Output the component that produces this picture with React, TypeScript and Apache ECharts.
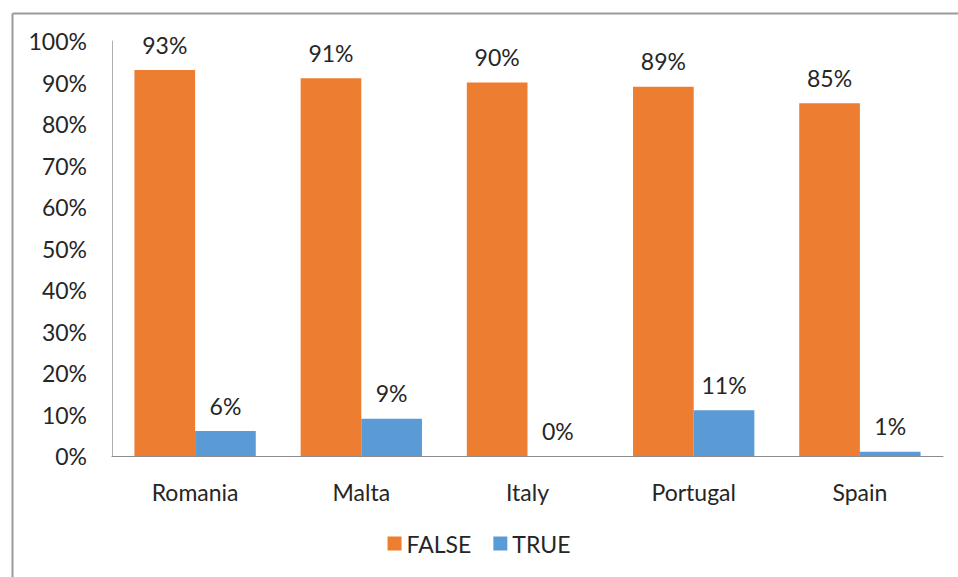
import React, { useEffect, useRef } from "react";
import * as echarts from "echarts";

const categories = ["Romania", "Malta", "Italy", "Portugal", "Spain"];
const falseValues = [93, 91, 90, 89, 85];
const trueValues = [6, 9, 0, 11, 1];
const seriesNames = ["FALSE", "TRUE"];

const FONT = "Lato, 'Open Sans', sans-serif";

export default function App() {
  const ref = useRef<HTMLDivElement>(null);
  useEffect(() => {
    if (!ref.current) return;
    const chart = echarts.init(ref.current, null, { renderer: "svg" });
    const label = {
      show: true,
      position: "top" as const,
      distance: 14,
      formatter: "{c}%",
      color: "#262626",
      fontSize: 23,
      fontFamily: FONT,
    };
    chart.setOption({
      animation: false,
      backgroundColor: "#fff",
      textStyle: { fontFamily: FONT },
      graphic: [
        { type: "line", shape: { x1: 10.5, y1: 0, x2: 10.5, y2: 577 }, top: 11, left: 10, style: { stroke: "#9a9a9a", lineWidth: 2 } },
        { type: "line", shape: { x1: 0, y1: 11.5, x2: 958, y2: 11.5 }, top: 11, left: 10, style: { stroke: "#9a9a9a", lineWidth: 2 } },
      ],
      grid: { left: 112, right: 15, top: 41, bottom: 121, containLabel: false },
      legend: {
        bottom: 17,
        left: "center",
        itemWidth: 14,
        itemHeight: 14,
        itemGap: 22,
        icon: "rect",
        textStyle: { fontSize: 23, color: "#262626", fontFamily: FONT },
        data: seriesNames,
      },
      xAxis: {
        type: "category",
        data: categories,
        axisTick: { show: false },
        axisLine: { lineStyle: { color: "#8c8c8c", width: 1 } },
        axisLabel: { fontSize: 23, color: "#262626", margin: 24, fontFamily: FONT },
      },
      yAxis: {
        type: "value",
        min: 0,
        max: 100,
        interval: 10,
        splitLine: { show: false },
        axisLine: { show: true, lineStyle: { color: "#b0b0b0", width: 1 } },
        axisTick: { show: false },
        axisLabel: { formatter: "{value}%", fontSize: 23, color: "#262626", margin: 25, fontFamily: FONT },
      },
      series: [
        {
          name: seriesNames[0],
          type: "bar",
          data: falseValues,
          itemStyle: { color: "#ED7D31" },
          barCategoryGap: "27%",
          barGap: "0%",
          label,
        },
        {
          name: seriesNames[1],
          type: "bar",
          data: trueValues,
          itemStyle: { color: "#5B9BD5" },
          barGap: "0%",
          label,
        },
      ],
    });
    return () => chart.dispose();
  }, []);
  return (
    <div
      ref={ref}
      style={{ position: "absolute", left: 0, top: 0, width: 958, height: 577 }}
    />
  );
}
